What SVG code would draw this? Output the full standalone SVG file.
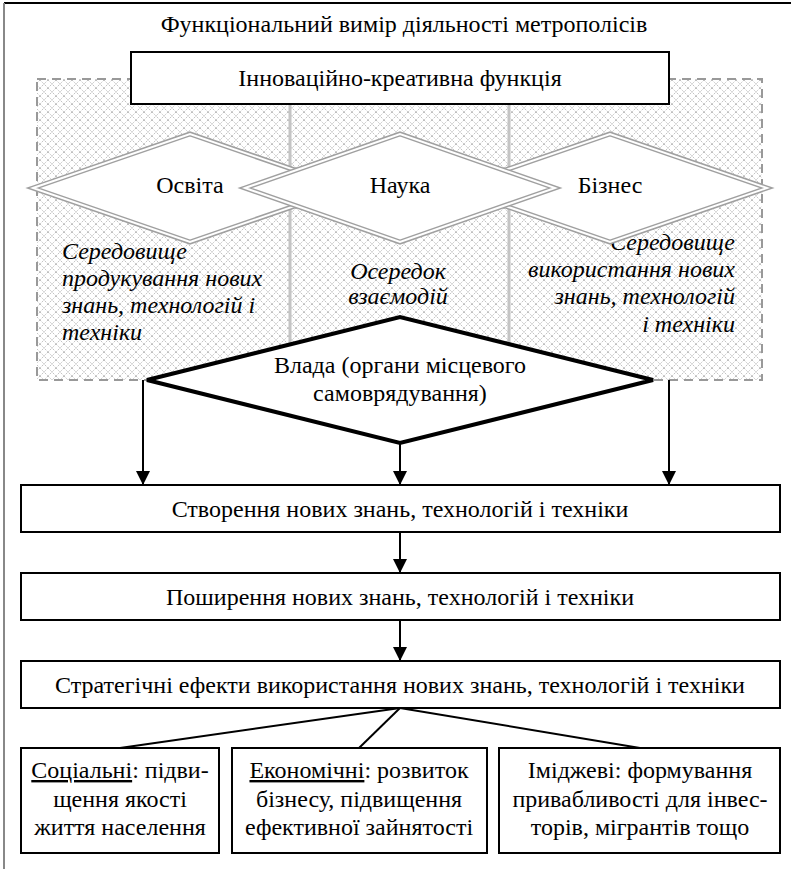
<svg xmlns="http://www.w3.org/2000/svg" width="791" height="869" viewBox="0 0 791 869" font-family="'Liberation Serif', serif" font-size="24">
<style>
svg text{font-family:"Liberation Serif","Times New Roman",serif;font-size:24px;fill:#000}
.c{text-anchor:middle}
.i{font-style:italic}
.r{text-anchor:end}
.box{fill:#fff;stroke:#000;stroke-width:2}
.dOut{fill:#fff;stroke:#a0a0a0;stroke-width:5;stroke-linejoin:miter}
.dIn{fill:none;stroke:#fff;stroke-width:2;stroke-linejoin:miter}
.con{stroke:#000;stroke-width:2;fill:none}
</style>
<defs>
<pattern id="hatch" width="8" height="8" patternUnits="userSpaceOnUse">
<rect width="8" height="8" fill="#fff"/>
<path d="M0,0 L8,8 M8,0 L0,8" stroke="#b8b8b8" stroke-width="0.9" stroke-dasharray="1.4,1"/>
</pattern>
<marker id="arr" markerWidth="16" markerHeight="14" refX="14" refY="7" orient="auto" markerUnits="userSpaceOnUse">
<path d="M0,0 L14,7 L0,14 Z" fill="#000"/>
</marker>
</defs>
<g id="frame">
<line x1="4" y1="3" x2="791" y2="3" stroke="#000" stroke-width="2"/>
<line x1="4" y1="3" x2="4" y2="869" stroke="#888" stroke-width="2"/>
</g>
<g id="title"><text class="c" x="404" y="32">Функціональний вимір діяльності метрополісів</text></g>
<g id="area">
<rect x="37" y="79" width="725" height="301" fill="url(#hatch)" stroke="#999" stroke-width="2" stroke-dasharray="9,6"/>
<line x1="290" y1="104" x2="290" y2="370" stroke="#c4c4c4" stroke-width="3"/>
<line x1="509" y1="104" x2="509" y2="370" stroke="#c4c4c4" stroke-width="3"/>
</g>
<g id="env-left">
<text class="i" x="62" y="259">Середовище</text>
<text class="i" x="62" y="286">продукування нових</text>
<text class="i" x="62" y="313">знань, технологій і</text>
<text class="i" x="62" y="340">техніки</text>
</g>
<g id="env-center">
<text class="i c" x="398" y="279">Осередок</text>
<text class="i c" x="398" y="304">взаємодій</text>
</g>
<g id="env-right">
<text class="i r" x="735" y="250">Середовище</text>
<text class="i r" x="735" y="277">використання нових</text>
<text class="i r" x="735" y="304">знань, технологій</text>
<text class="i r" x="735" y="332">і техніки</text>
</g>
<g id="top-box">
<rect class="box" x="131" y="52" width="538" height="52"/>
<text class="c" x="400" y="86">Інноваційно-креативна функція</text>
</g>
<g id="osvita">
<polygon class="dOut" points="33,188 190,134 347,188 190,242"/>
<polygon class="dIn" points="33,188 190,134 347,188 190,242"/>
<text class="c" x="190" y="193">Освіта</text>
</g>
<g id="biznes">
<polygon class="dOut" points="453,188 610,134 767,188 610,242"/>
<polygon class="dIn" points="453,188 610,134 767,188 610,242"/>
<text class="c" x="610" y="193">Бізнес</text>
</g>
<g id="nauka">
<polygon class="dOut" points="245,188 400,134 555,188 400,242"/>
<polygon class="dIn" points="245,188 400,134 555,188 400,242"/>
<text class="c" x="400" y="193">Наука</text>
</g>
<g id="vlada">
<polygon points="147,380 400,317 653,380 400,443" fill="#fff" stroke="#000" stroke-width="4"/>
<text class="c" x="400" y="373">Влада (органи місцевого</text>
<text class="c" x="400" y="401">самоврядування)</text>
</g>
<g id="connectors">
<line class="con" x1="143" y1="380" x2="143" y2="485" marker-end="url(#arr)"/>
<line class="con" x1="400" y1="443" x2="400" y2="485" marker-end="url(#arr)"/>
<line class="con" x1="669" y1="380" x2="669" y2="485" marker-end="url(#arr)"/>
<line class="con" x1="400" y1="532" x2="400" y2="573" marker-end="url(#arr)"/>
<line class="con" x1="400" y1="620" x2="400" y2="661" marker-end="url(#arr)"/>
<line class="con" x1="400" y1="708" x2="120" y2="748"/>
<line class="con" x1="400" y1="708" x2="359" y2="748"/>
<line class="con" x1="400" y1="708" x2="640" y2="748"/>
</g>
<g id="create">
<rect class="box" x="21" y="485" width="759" height="47"/>
<text class="c" x="400" y="517">Створення нових знань, технологій і техніки</text>
</g>
<g id="spread">
<rect class="box" x="21" y="573" width="759" height="47"/>
<text class="c" x="400" y="605">Поширення нових знань, технологій і техніки</text>
</g>
<g id="effects">
<rect class="box" x="21" y="661" width="759" height="47"/>
<text class="c" x="400" y="693">Стратегічні ефекти використання нових знань, технологій і техніки</text>
</g>
<g id="social">
<rect class="box" x="21" y="748" width="198" height="105"/>
<text class="c" x="120" y="778"><tspan text-decoration="underline">Соціальні</tspan>: підви-</text>
<text class="c" x="120" y="807">щення якості</text>
<text class="c" x="120" y="835">життя населення</text>
</g>
<g id="economic">
<rect class="box" x="232" y="748" width="255" height="105"/>
<text class="c" x="359" y="778"><tspan text-decoration="underline">Економічні</tspan>: розвиток</text>
<text class="c" x="359" y="807">бізнесу, підвищення</text>
<text class="c" x="359" y="835">ефективної зайнятості</text>
</g>
<g id="image">
<rect class="box" x="499" y="748" width="281" height="105"/>
<text class="c" x="640" y="778">Іміджеві: формування</text>
<text class="c" x="640" y="807">привабливості для інвес-</text>
<text class="c" x="640" y="835">торів, мігрантів тощо</text>
</g>
</svg>
